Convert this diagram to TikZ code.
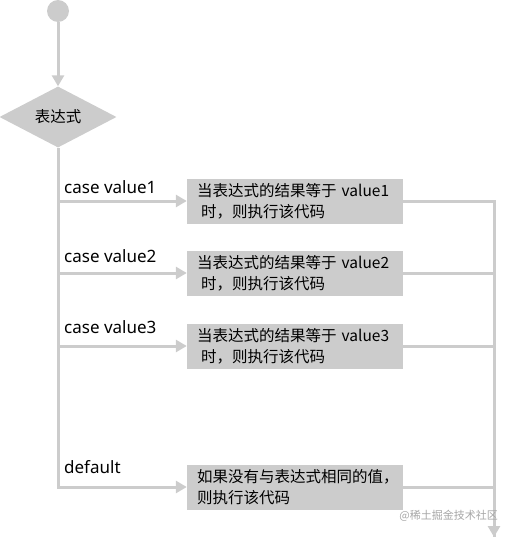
\documentclass[tikz,border=0pt]{standalone}
\usepackage{fontspec}
\setmainfont{Noto Sans CJK SC}
\newfontfamily\labelfont{Noto Sans}
\usepackage{xcolor}
\usetikzlibrary{positioning, arrows.meta, shapes.geometric}
\definecolor{flowgray}{RGB}{204,204,204}

\begin{document}
\begin{tikzpicture}[x=1pt,y=-1pt,>={Triangle[length=11pt,width=12pt]},
  flow/.style={draw=flowgray,line width=3pt},
  casebox/.style={fill=flowgray,minimum width=216pt,minimum height=45pt,
    text width=196pt,inner xsep=10pt,inner ysep=0pt,align=left,
    font=\fontsize{15.5}{21}\selectfont,text=black},
  caselabel/.style={anchor=base west,inner sep=0pt,
    font=\labelfont\fontsize{17}{20}\selectfont}]
  \useasboundingbox (0,0) rectangle (512,538);
  \node[circle,fill=flowgray,minimum size=22pt,inner sep=0pt] (start) at (58,11){};
  \node[diamond,fill=flowgray,minimum width=117pt,minimum height=61pt,inner sep=0pt,
        font=\fontsize{15.5}{18}\selectfont,text=black] (expr) at (58,117){表达式};
  \draw[flow,->](start)--(expr);

  \node[casebox] (box1) at (295,201){当表达式的结果等于 value1\\\hspace*{4pt}时，则执行该代码};
  \node[casebox] (box2) at (295,273){当表达式的结果等于 value2\\\hspace*{4pt}时，则执行该代码};
  \node[casebox] (box3) at (295,346){当表达式的结果等于 value3\\\hspace*{4pt}时，则执行该代码};
  \node[casebox] (box4) at (295,487){如果没有与表达式相同的值，\\则执行该代码};

  \node[caselabel] (lab1) at (64,193){case value1};
  \node[caselabel] (lab2) at (64,262){case value2};
  \node[caselabel] (lab3) at (64,333){case value3};
  \node[caselabel] (lab4) at (64,473){default};

  \coordinate (endc) at (494,537);
  \draw[flow,->](expr.south)|-(box4.west);
  \draw[flow,->](expr.south|-box1.west)--(box1.west);
  \draw[flow,->](expr.south|-box2.west)--(box2.west);
  \draw[flow,->](expr.south|-box3.west)--(box3.west);
  \draw[flow](box2.east)-|(endc);
  \draw[flow](box3.east)-|(endc);
  \draw[flow](box4.east)-|(endc);
  \draw[flow,->](box1.east)-|(endc);

  \node[font=\fontsize{11}{13}\selectfont,text=black!35,anchor=east,inner sep=0pt] (mark) at (498,516){@稀土掘金技术社区};
\end{tikzpicture}
\end{document}
